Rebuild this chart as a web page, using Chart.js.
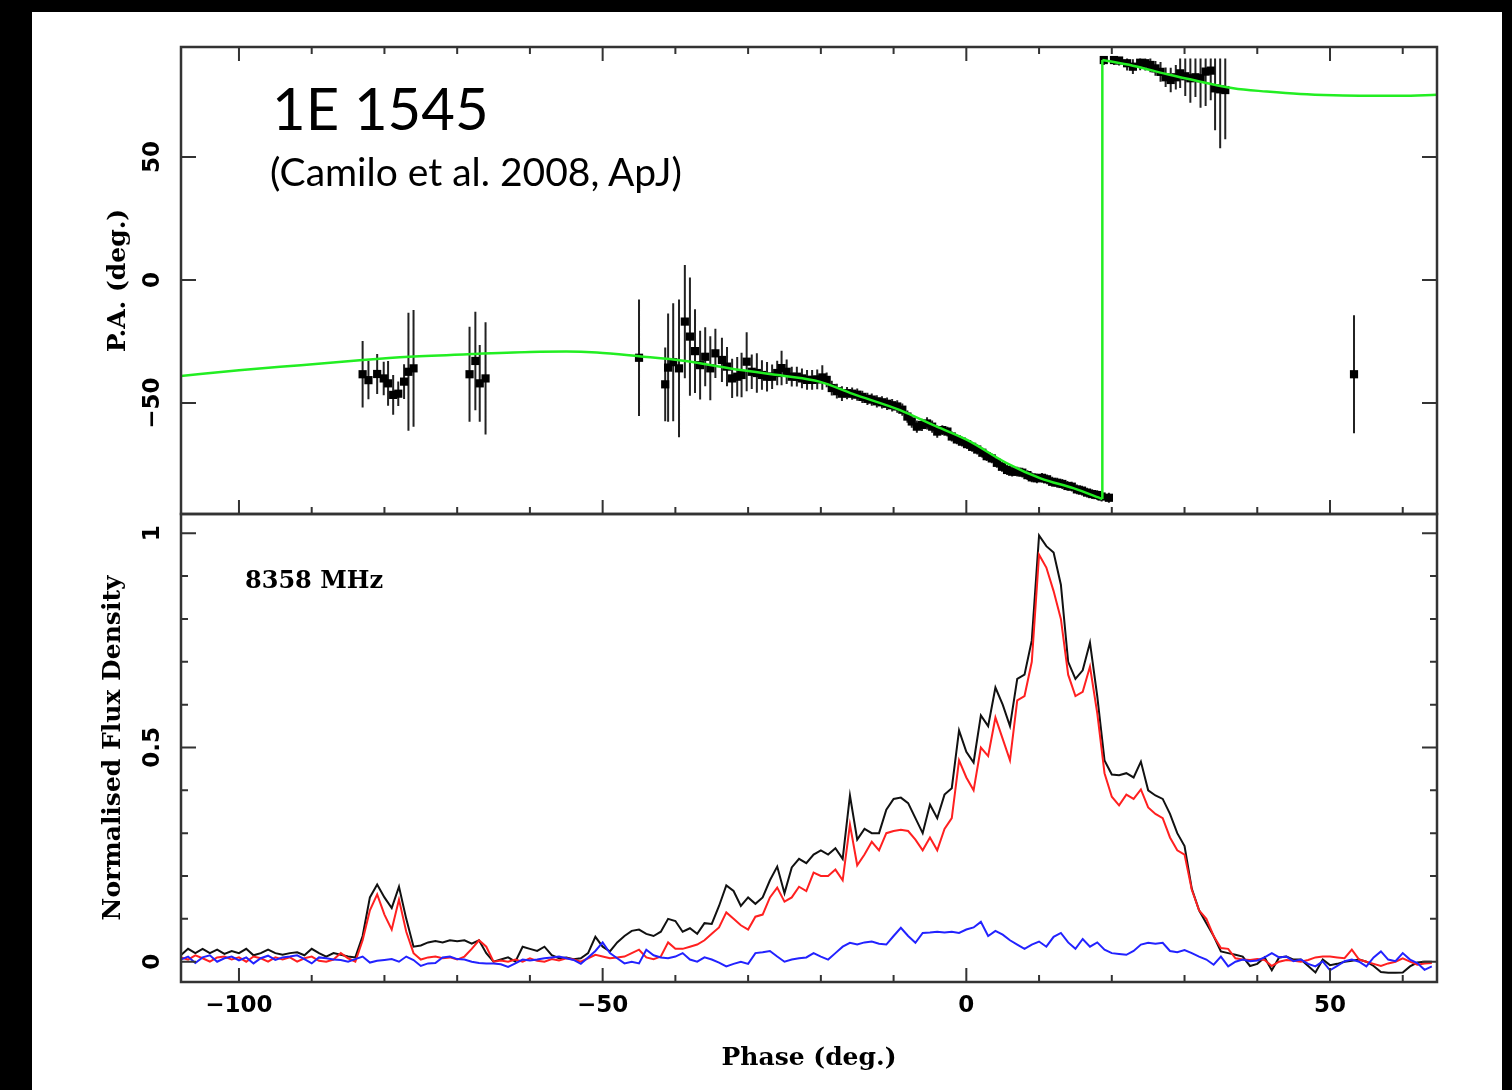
<!DOCTYPE html>
<html>
<head>
<meta charset="utf-8">
<title>1E 1545 polarization profile</title>
<script src="https://cdn.jsdelivr.net/npm/chart.js@4.4.1/dist/chart.umd.min.js"></script>
<style>
html, body { margin:0; padding:0; width:1512px; height:1090px; background:#000; overflow:hidden; }
#paper { position:absolute; left:32px; top:12px; width:1470px; height:1078px; background:#fff; }
canvas { position:absolute; left:0; top:0; }
.note { position:absolute; white-space:nowrap; color:#000; line-height:1; }
</style>
</head>
<body>
<div id="paper"></div>
<canvas id="paChart" width="1512" height="1090"></canvas>
<canvas id="profChart" width="1512" height="1090"></canvas>
<div class="note" style="left:272px;top:79px;font-family:Lato;font-size:58px;">1E 1545</div>
<div class="note" style="left:270px;top:152px;font-family:Lato;font-size:39px;">(Camilo et al. 2008, ApJ)</div>
<div class="note" style="left:245px;top:568px;font-family:'DejaVu Serif';font-weight:bold;font-size:24px;">8358 MHz</div>
<script>
// ---------------- data ----------------
const xTickLabels = [-100, -50, 0, 50];
const xMinorTicks = [-100, -90, -80, -70, -60, -50, -40, -30, -20, -10, 0, 10, 20, 30, 40, 50, 60];
const paTickLabels = [-50, 0, 50];
const fluxTickLabels = [0, 0.5, 1];
const fluxMinorTicks = [0, 0.1, 0.2, 0.3, 0.4, 0.5, 0.6, 0.7, 0.8, 0.9, 1];

// Polarization position angle measurements
const paPhase = [
-83.0,-82.2,-81.0,-80.1,-79.5,-78.8,-78.1,-77.3,-76.7,-76.0,
-68.3,-67.5,-66.9,-66.1,
-45.0,
-41.4,-41.0,-40.3,-39.5,-38.7,-38.0,-37.3,-36.6,-35.9,-35.2,
-34.5,-33.6,-32.9,-32.2,-31.5,-30.9,-30.2,-29.5,-28.8,-28.1,
-27.4,-26.7,-26.0,-25.4,-24.7,-24.0,-23.3,-22.6,-21.9,-21.2,
-20.5,-19.8,-19.2,-18.5,-17.8,-17.1,-16.4,-15.7,-15.0,-14.3,
-13.6,-13.0,-12.3,-11.6,-10.9,-10.2,-9.5,-8.8,-8.1,-7.5,
-6.8,-6.1,-5.4,-4.7,-4.0,-3.3,-2.6,-2.0,-1.3,-0.6,
0.1,0.8,1.5,2.2,2.8,3.5,4.2,4.9,5.6,6.3,
7.0,7.7,8.4,9.0,9.7,10.4,11.1,11.8,12.5,13.2,
13.9,14.5,15.2,15.9,16.6,17.3,18.0,18.6,19.6,
18.9,20.3,21.0,22.1,22.9,23.9,24.6,25.3,26.0,26.7,
27.4,28.1,28.8,29.4,30.1,30.8,31.5,32.2,32.9,33.6,
34.2,34.9,35.6,
53.3];
const paValue = [
-38.3,-40.7,-38.2,-40.0,-42.0,-46.7,-46.2,-41.3,-37.3,-35.9,
-38.3,-32.9,-42.0,-40.0,
-31.6,
-42.4,-35.6,-33.4,-35.9,-16.9,-23.0,-28.9,-34.6,-31.2,-35.9,
-29.8,-32.5,-35.2,-40.0,-39.3,-38.6,-33.2,-37.3,-37.8,-38.6,
-39.3,-39.3,-37.8,-35.8,-37.3,-39.3,-39.3,-40.0,-40.6,-40.6,
-40.4,-39.6,-40.6,-43.9,-45.2,-46.2,-46.0,-46.2,-46.6,-47.5,
-48.3,-48.6,-49.3,-49.7,-50.3,-50.9,-51.4,-52.7,-55.5,-57.5,
-59.6,-58.9,-58.3,-59.6,-61.6,-61.0,-61.6,-63.6,-64.8,-65.7,
-66.7,-67.8,-68.9,-70.2,-71.6,-72.5,-74.3,-75.9,-77.2,-77.9,
-77.9,-78.3,-79.3,-80.2,-80.6,-80.4,-81.0,-82.0,-82.4,-82.9,
-83.7,-84.0,-85.1,-85.6,-86.4,-87.0,-87.4,-88.0,-88.5,
89.4,89.4,89.2,88.1,86.7,88.3,88.1,87.4,86.0,84.6,
82.4,81.3,82.4,84.0,82.8,82.0,82.4,82.0,84.7,85.1,
77.9,77.5,77.2,
-38.3];
const paError = [
13.5,7.8,8.1,6.8,9.1,8.1,5.0,7.1,24.0,23.7,
19.3,20.0,15.6,22.8,
23.7,
15,22,24,28,23,24,17,14,12,13,
10,9,8,8,8,9,12,7,8,6,
6,5,5,7,5,4,4,4,4,4,
4,5,3,3,3,3,2.5,2.5,2.5,2.5,
2.5,2.5,2.5,2.5,2.5,2.5,2.5,2.5,2.5,2.5,
2.5,2.5,2.5,2.5,2.5,2,2,2,2,2,
2,2,2,2,2,2,2,2,2,2,
2,2,2,2,2,2,2,2,2,2,
2,2,2,2,2,2,2,2,2,
2,2,2,3,3,3,3,3,3,4,
4,5,5,6,8,10,8,12,14,12,
17,24,20,
24];

// RVM fit (two branches, PA wraps at +-90)
const fitPhaseLow = [-108, -100, -91.5, -83, -76.6, -68, -60, -55, -50.8, -45, -38.9, -31, -25, -20.2, -15.6, -9.2, -4.6, 0.1, 5.6, 10.2, 14.8, 18.7];
const fitPALow    = [-39, -36.7, -34.6, -32.5, -31.2, -30.1, -29.3, -29.1, -29.5, -31, -32.8, -36.6, -39, -41.3, -46.3, -52.8, -58.9, -65, -74.5, -80.6, -84.7, -89];
const fitPhaseHigh = [18.7, 22.9, 27.5, 32.2, 36.7, 41.3, 45.9, 50.5, 55.1, 59.7, 64.7];
const fitPAHigh    = [89.4, 87.1, 83.7, 80.6, 77.9, 76.6, 75.6, 75.1, 74.9, 74.9, 75.3];

// Pulse profile (normalised flux density)
const profPhase = [
-108,-107,-106,-105,-104,-103,-102,-101,-100,-99,
-98,-97,-96,-95,-94,-93,-92,-91,-90,-89,
-88,-87,-86,-85,-84,-83,-82,-81,-80,-79,
-78,-77,-76,-75,-74,-73,-72,-71,-70,-69,
-68,-67,-66,-65,-64,-63,-62,-61,-60,-59,
-58,-57,-56,-55,-54,-53,-52,-51,-50,-49,
-48,-47,-46,-45,-44,-43,-42,-41,-40,-39,
-38,-37,-36,-35,-34,-33,-32,-31,-30,-29,
-28,-27,-26,-25,-24,-23,-22,-21,-20,-19,
-18,-17,-16,-15,-14,-13,-12,-11,-10,-9,
-8,-7,-6,-5,-4,-3,-2,-1,0,1,
2,3,4,5,6,7,8,9,10,11,
12,13,14,15,16,17,18,19,20,21,
22,23,24,25,26,27,28,29,30,31,
32,33,34,35,36,37,38,39,40,41,
42,43,44,45,46,47,48,49,50,51,
52,53,54,55,56,57,58,59,60,61,
62,63,64];
const totalI = [
0.015,0.03,0.02,0.03,0.02,0.028,0.018,0.025,0.02,0.03,
0.015,0.02,0.028,0.02,0.016,0.02,0.022,0.015,0.03,0.02,
0.012,0.02,0.016,0.012,0.01,0.06,0.15,0.18,0.15,0.125,
0.175,0.1,0.035,0.038,0.045,0.048,0.045,0.05,0.048,0.05,
0.042,0.05,0.02,0.0,0.005,0.01,0.0,0.035,0.03,0.025,
0.035,0.015,0.008,0.01,0.006,0.008,0.02,0.058,0.035,0.024,
0.045,0.06,0.072,0.075,0.065,0.06,0.07,0.1,0.095,0.07,
0.078,0.065,0.09,0.088,0.13,0.178,0.165,0.13,0.15,0.135,
0.15,0.19,0.222,0.16,0.22,0.24,0.23,0.25,0.26,0.25,
0.265,0.24,0.388,0.285,0.31,0.3,0.3,0.355,0.38,0.383,
0.37,0.335,0.3,0.367,0.335,0.39,0.405,0.54,0.49,0.465,
0.575,0.55,0.64,0.6,0.55,0.66,0.67,0.75,0.995,0.97,
0.955,0.88,0.7,0.66,0.68,0.745,0.62,0.47,0.437,0.435,
0.44,0.43,0.467,0.4,0.388,0.38,0.345,0.3,0.27,0.17,
0.12,0.09,0.06,0.024,0.02,0.016,0.012,-0.01,-0.005,0.01,
-0.02,0.01,0.012,0.005,0.005,-0.01,-0.025,0.005,-0.008,-0.005,
0.0,0.002,0.005,0.0,-0.01,-0.024,-0.026,-0.026,-0.025,-0.011,
-0.002,0.0,0.0];
const linearL = [
0.01,0.005,0.015,0.008,0.0,0.01,0.012,0.005,0.01,0.0,
0.012,0.008,0.0,0.01,0.005,0.01,0.0,0.008,0.012,0.002,
0.0,0.005,0.02,0.008,0.0,0.05,0.12,0.157,0.11,0.075,
0.145,0.07,0.02,0.005,0.01,0.012,0.008,0.01,0.005,0.012,
0.03,0.05,0.035,0.0,0.003,0.0,0.005,0.0,0.008,0.002,
0.0,0.006,0.003,0.008,0.005,0.0,0.008,0.016,0.012,0.008,
0.01,0.012,0.02,0.028,0.01,0.006,0.012,0.045,0.03,0.03,
0.035,0.04,0.05,0.065,0.08,0.115,0.1,0.085,0.075,0.105,
0.11,0.15,0.173,0.14,0.15,0.175,0.165,0.208,0.2,0.2,
0.215,0.19,0.32,0.225,0.25,0.28,0.26,0.3,0.305,0.308,
0.305,0.285,0.26,0.29,0.26,0.31,0.335,0.47,0.43,0.4,
0.5,0.48,0.57,0.52,0.47,0.61,0.62,0.7,0.95,0.92,
0.865,0.8,0.67,0.62,0.63,0.689,0.58,0.44,0.385,0.365,
0.39,0.38,0.402,0.36,0.345,0.335,0.29,0.26,0.25,0.168,
0.12,0.1,0.06,0.032,0.03,0.008,0.005,0.004,0.006,0.004,
-0.01,0.0,0.004,0.002,0.0,0.004,0.01,0.012,0.012,0.01,
0.008,0.028,0.005,0.0,-0.005,-0.01,-0.004,0.0,0.008,0.0,
-0.007,-0.004,-0.003];
const circularV = [
0.005,0.012,-0.003,0.01,0.015,0.0,0.008,0.012,0.003,0.01,
-0.004,0.008,0.014,0.004,0.01,0.012,0.015,0.006,-0.004,0.01,
0.008,0.005,0.004,0.0,0.006,0.012,-0.002,0.002,0.004,0.006,
0.0,0.012,0.004,-0.01,-0.004,-0.003,0.01,0.012,0.006,0.005,
0.0,-0.003,-0.004,-0.004,-0.006,-0.012,-0.004,0.005,0.003,0.005,
0.008,0.01,0.012,0.008,0.004,-0.005,0.01,0.025,0.045,0.02,
0.008,-0.004,0.0,-0.004,0.028,0.015,0.01,0.008,0.012,0.02,
0.005,0.0,0.01,0.005,-0.002,-0.011,-0.005,0.0,-0.005,0.02,
0.022,0.025,0.012,0.0,0.005,0.008,0.01,0.02,0.012,0.005,
0.02,0.035,0.044,0.04,0.045,0.047,0.042,0.04,0.06,0.079,
0.06,0.044,0.067,0.068,0.07,0.068,0.07,0.067,0.075,0.08,
0.093,0.06,0.072,0.063,0.05,0.04,0.03,0.04,0.047,0.035,
0.058,0.067,0.045,0.03,0.053,0.035,0.045,0.028,0.02,0.018,
0.016,0.025,0.04,0.044,0.042,0.044,0.025,0.022,0.027,0.02,
0.012,0.005,-0.007,0.012,-0.011,0.0,0.005,0.001,0.003,0.01,
0.02,0.01,0.012,0.001,0.005,-0.005,-0.011,0.001,-0.02,-0.01,
0.001,0.005,0.0,-0.011,0.01,0.024,0.005,0.001,0.02,0.005,
-0.003,-0.019,-0.011];

// ---------------- layout / style ----------------
const X_MIN = -107.97, X_MAX = 64.71;
const PA_MIN = -95.1, PA_MAX = 94.7;
const FLUX_MIN = -0.0474, FLUX_MAX = 1.045;
const TICK_FONT = { family: 'DejaVu Sans', size: 23, weight: 'bold' };
const TITLE_FONT = { family: 'DejaVu Serif', size: 25, weight: 'bold' };

function fmtTick(v) { return v < 0 ? '\u2212' + Math.abs(v) : String(v); }
const mctx = document.createElement('canvas').getContext('2d');
mctx.font = 'bold ' + TICK_FONT.size + 'px "' + TICK_FONT.family + '"';
function widest(vals) { return Math.max(...vals.map(v => mctx.measureText(fmtTick(v)).width)); }
const LABEL_CENTER = 28; // distance from axis to centre of rotated y labels

const frameTicks = {
  id: 'frameTicks',
  afterDraw(chart, args, o) {
    const { ctx, chartArea: a } = chart;
    const xs = chart.scales.x, ys = chart.scales.y;
    ctx.save();
    ctx.strokeStyle = '#333';
    ctx.lineWidth = 2;
    ctx.beginPath();
    o.xMinor.forEach(v => {
      const p = xs.getPixelForValue(v);
      const len = o.xMajor.includes(v) ? 14 : 7;
      if (o.xSides.includes('bottom')) { ctx.moveTo(p, a.bottom); ctx.lineTo(p, a.bottom - len); }
      if (o.xSides.includes('top')) { ctx.moveTo(p, a.top); ctx.lineTo(p, a.top + len); }
    });
    o.yMinor.forEach(v => {
      const p = ys.getPixelForValue(v);
      const len = o.yMajor.includes(v) ? 15 : 7;
      ctx.moveTo(a.left, p); ctx.lineTo(a.left + len, p);
      ctx.moveTo(a.right, p); ctx.lineTo(a.right - len, p);
    });
    ctx.stroke();
    ctx.lineWidth = 2.5;
    ctx.strokeRect(a.left, a.top, a.right - a.left, a.bottom - a.top);
    ctx.restore();
  }
};

// ---------------- top panel: position angle ----------------
const errSegments = [];
paPhase.forEach((p, i) => {
  errSegments.push({ x: p, y: paValue[i] - paError[i] });
  errSegments.push({ x: p, y: Math.min(paValue[i] + paError[i], 90) });
  errSegments.push({ x: p, y: null });
});
const paPoints = paPhase.map((p, i) => ({ x: p, y: paValue[i] }));
const fitLow = fitPhaseLow.map((p, i) => ({ x: p, y: fitPALow[i] }));
const fitHigh = fitPhaseHigh.map((p, i) => ({ x: p, y: fitPAHigh[i] }));
const fitJump = [fitLow[fitLow.length - 1], fitHigh[0]];
const GREEN = '#22ee22';

new Chart(document.getElementById('paChart'), {
  type: 'line',
  data: {
    datasets: [
      { data: fitLow, borderColor: GREEN, borderWidth: 2.5, pointRadius: 0, cubicInterpolationMode: 'monotone', order: 0 },
      { data: fitJump, borderColor: GREEN, borderWidth: 2.5, pointRadius: 0, order: 0 },
      { data: fitHigh, borderColor: GREEN, borderWidth: 2.5, pointRadius: 0, cubicInterpolationMode: 'monotone', order: 0 },
      { type: 'scatter', data: paPoints, pointStyle: 'rect', pointRadius: 5.8, backgroundColor: '#000', borderWidth: 0, order: 1 },
      { data: errSegments, borderColor: '#222', borderWidth: 2, pointRadius: 0, spanGaps: false, order: 2 }
    ]
  },
  options: {
    responsive: false, animation: false, devicePixelRatio: 1,
    layout: { padding: { left: 0, top: 47, right: 75, bottom: 576 } },
    plugins: {
      legend: { display: false }, tooltip: { enabled: false },
      frameTicks: { xMinor: xMinorTicks, xMajor: xTickLabels, xSides: ['top', 'bottom'], yMinor: paTickLabels, yMajor: paTickLabels }
    },
    scales: {
      x: { type: 'linear', min: X_MIN, max: X_MAX, display: false },
      y: {
        type: 'linear', min: PA_MIN, max: PA_MAX, position: 'left',
        afterFit(s) { s.width = 181; },
        afterBuildTicks(s) { s.ticks = paTickLabels.map(v => ({ value: v })); },
        grid: { display: false, drawTicks: false },
        border: { display: false },
        ticks: { minRotation: 90, maxRotation: 90, crossAlign: 'center', padding: LABEL_CENTER - widest(paTickLabels) / 2,
                 font: TICK_FONT, color: '#000', callback: v => fmtTick(v) },
        title: { display: true, text: 'P.A. (deg.)', font: TITLE_FONT, color: '#000', padding: { top: 103, bottom: 0 } }
      }
    }
  },
  plugins: [frameTicks]
});

// ---------------- bottom panel: profile ----------------
const toPts = arr => profPhase.map((p, i) => ({ x: p, y: arr[i] }));
new Chart(document.getElementById('profChart'), {
  type: 'line',
  data: {
    datasets: [
      { data: toPts(circularV), borderColor: '#2222ff', borderWidth: 2, pointRadius: 0, order: 0 },
      { data: toPts(linearL), borderColor: '#ff2020', borderWidth: 2, pointRadius: 0, order: 1 },
      { data: toPts(totalI), borderColor: '#111', borderWidth: 2, pointRadius: 0, order: 2 }
    ]
  },
  options: {
    responsive: false, animation: false, devicePixelRatio: 1,
    layout: { padding: { left: 0, top: 514, right: 75, bottom: 0 } },
    plugins: {
      legend: { display: false }, tooltip: { enabled: false },
      frameTicks: { xMinor: xMinorTicks, xMajor: xTickLabels, xSides: ['bottom'], yMinor: fluxMinorTicks, yMajor: fluxTickLabels }
    },
    scales: {
      x: {
        type: 'linear', min: X_MIN, max: X_MAX, position: 'bottom',
        afterFit(s) { s.height = 108; },
        afterBuildTicks(s) { s.ticks = xTickLabels.map(v => ({ value: v })); },
        grid: { display: false, drawTicks: false },
        border: { display: false },
        ticks: { font: TICK_FONT, color: '#000', padding: 10, maxRotation: 0, callback: v => fmtTick(v) },
        title: { display: true, text: 'Phase (deg.)', font: TITLE_FONT, color: '#000', padding: { top: 0, bottom: 17 } }
      },
      y: {
        type: 'linear', min: FLUX_MIN, max: FLUX_MAX, position: 'left',
        afterFit(s) { s.width = 181; },
        afterBuildTicks(s) { s.ticks = fluxTickLabels.map(v => ({ value: v })); },
        grid: { display: false, drawTicks: false },
        border: { display: false },
        ticks: { minRotation: 90, maxRotation: 90, crossAlign: 'center', padding: LABEL_CENTER - widest(fluxTickLabels) / 2,
                 font: TICK_FONT, color: '#000', callback: v => fmtTick(v) },
        title: { display: true, text: 'Normalised Flux Density', font: TITLE_FONT, color: '#000', padding: { top: 98, bottom: 0 } }
      }
    }
  },
  plugins: [frameTicks]
});
</script>
</body>
</html>
